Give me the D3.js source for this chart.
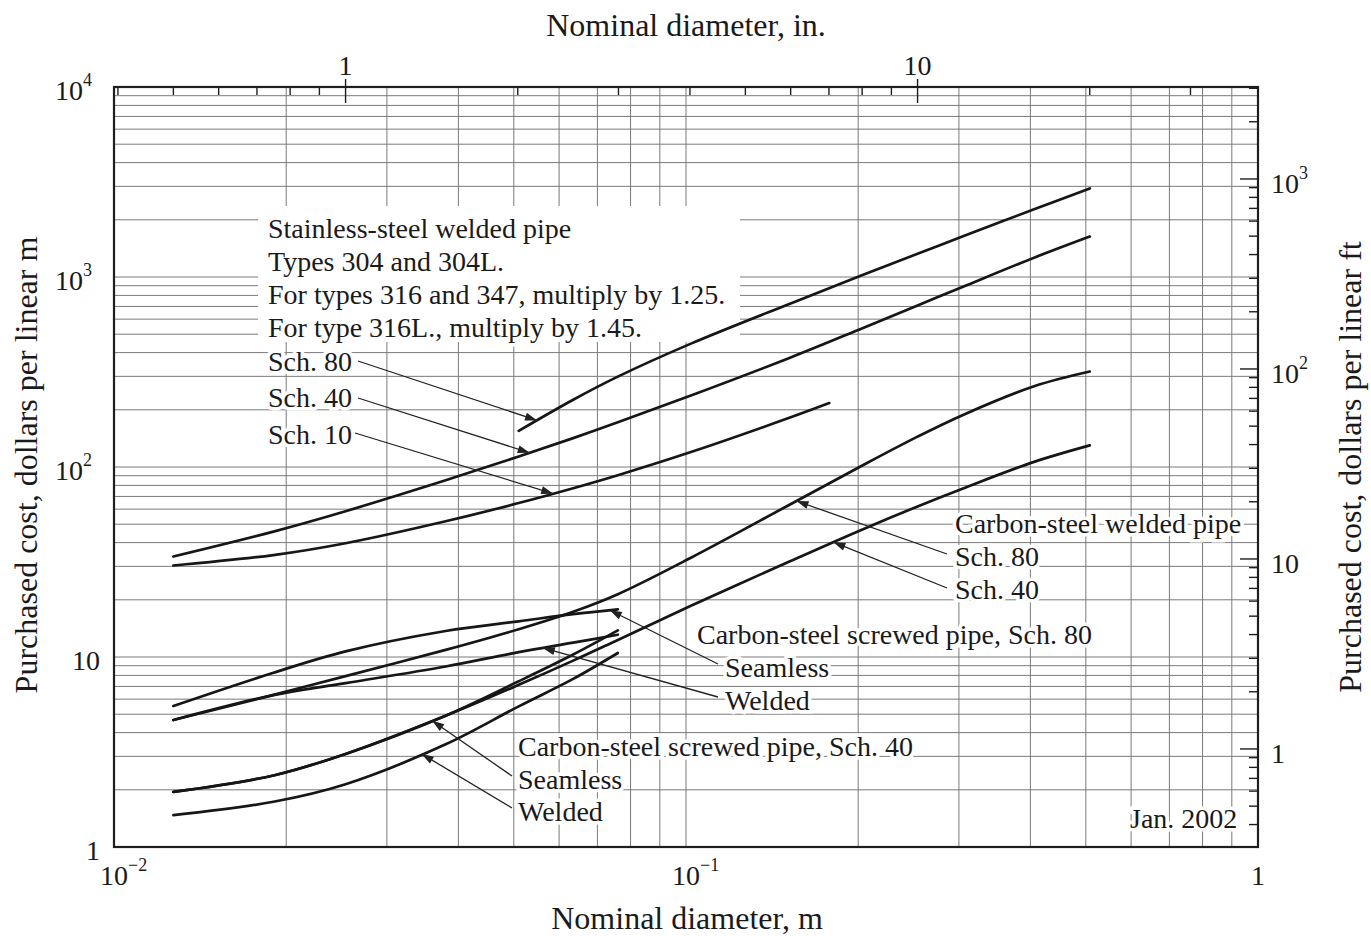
<!DOCTYPE html>
<html>
<head>
<meta charset="utf-8">
<script src="https://cdn.jsdelivr.net/npm/d3@7"></script>
<style>
  body { margin: 0; background: #fff; }
  svg text { font-family: "Liberation Serif", "Times New Roman", serif; fill: #1a1a1a; }
</style>
</head>
<body>
<svg id="chart" width="1371" height="936"></svg>
<script>
'use strict';

// nominal pipe sizes, m (1/2 in. up to 20 in.)
var diameters = [0.0127, 0.019, 0.0254, 0.038, 0.051, 0.0635, 0.076, 0.102, 0.152, 0.203, 0.254, 0.305, 0.406, 0.508];

// purchased cost, $ per linear m (null = curve not drawn there)
var ssSch80 = [null, null, null, null, 155, 226, 299, 446, 724, 1020, 1325, 1637, 2274, 2924];
var ssSch40 = [33.8, 45.7, 58.5, 85.1, 113.5, 141.9, 171.8, 237.7, 375.8, 535.8, 708, 889, 1264, 1633];
var ssSch10Dia = [0.0127, 0.019, 0.0254, 0.038, 0.051, 0.0635, 0.076, 0.102, 0.152, 0.178];
var ssSch10 = [30.3, 34.4, 39.7, 51.8, 64.6, 77.3, 90.5, 119.8, 182, 217];
var csWeldedSch80 = [4.66, 6.32, 7.93, 10.9, 14.0, 17.3, 21.4, 33.3, 63.5, 101.6, 144.5, 188, 266, 318];
var csWeldedSch40 = [1.95, 2.38, 3.09, 4.91, 7.14, 9.57, 12.3, 18.6, 31.9, 46.8, 62.0, 77.1, 106.4, 130];
// screwed pipe only goes up to 3 in.
var screwedSch80Seamless = [5.52, 8.26, 10.7, 13.7, 15.4, 16.8, 17.8];
var screwedSch80Welded = [4.66, 6.30, 7.28, 8.91, 10.6, 11.9, 13.1];
var screwedSch40Seamless = [1.95, 2.38, 3.09, 4.91, 7.45, 10.3, 13.8];
var screwedSch40Welded = [1.47, 1.73, 2.14, 3.47, 5.50, 7.67, 10.5];

var yTickValues = [1, 10, 100, 1000, 10000];
var yTickLabels = [['1', ''], ['10', ''], ['10', '2'], ['10', '3'], ['10', '4']];
var xTickValues = [0.01, 0.1, 1];
var xTickLabels = [['10', '\u22122'], ['10', '\u22121'], ['1', '']];
var inTickValues = [1, 10];
var ftTickValues = [1, 10, 100, 1000];
var ftTickLabels = [['1', ''], ['10', ''], ['10', '2'], ['10', '3']];

var svg = d3.select('#chart');
var pLeft = 114, pRight = 1258, pTop = 87, pBottom = 847;

var x = d3.scaleLog().domain([0.01, 1]).range([pLeft, pRight]);
var y = d3.scaleLog().domain([1, 1e4]).range([pBottom, pTop]);
var xIn = d3.scaleLog().domain([0.01 / 0.0254, 1 / 0.0254]).range([pLeft, pRight]);
var yFt = d3.scaleLog().domain([0.3048, 3048]).range([pBottom, pTop]);

// log grid
var grid = svg.append('g').attr('stroke', '#7a7a7a').attr('stroke-width', 1);
grid.selectAll('line.v').data(x.ticks()).enter().append('line')
    .attr('x1', function(d) { return x(d); }).attr('x2', function(d) { return x(d); })
    .attr('y1', pTop).attr('y2', pBottom);
grid.selectAll('line.h').data(y.ticks()).enter().append('line')
    .attr('y1', function(d) { return y(d); }).attr('y2', function(d) { return y(d); })
    .attr('x1', pLeft).attr('x2', pRight);

// clear area behind the stainless-steel note
svg.append('rect').attr('x', 258).attr('y', 206).attr('width', 482).attr('height', 136).attr('fill', '#fff');

// frame
svg.append('rect').attr('x', pLeft).attr('y', pTop).attr('width', pRight - pLeft).attr('height', pBottom - pTop)
    .attr('fill', 'none').attr('stroke', '#1e1e1e').attr('stroke-width', 2.2);

// top (in.) and right (ft) ticks
var ticks = svg.append('g').attr('stroke', '#1e1e1e').attr('stroke-width', 1.4);
xIn.ticks().forEach(function(t) {
  var major = inTickValues.indexOf(t) >= 0;
  ticks.append('line').attr('x1', xIn(t)).attr('x2', xIn(t))
      .attr('y1', major ? pTop - 8 : pTop).attr('y2', pTop + (major ? 16 : 8));
});
yFt.ticks().forEach(function(t) {
  var major = ftTickValues.indexOf(t) >= 0;
  ticks.append('line').attr('y1', yFt(t)).attr('y2', yFt(t))
      .attr('x1', pRight - (major ? 18 : 9)).attr('x2', pRight);
});

function label(g, px, py, parts, anchor) {
  var t = g.append('text').attr('x', px).attr('y', py).attr('dy', '0.35em')
      .attr('font-size', 28).attr('text-anchor', anchor).text(parts[0]);
  if (parts[1]) t.append('tspan').attr('font-size', 18).attr('dy', '-0.75em').text(parts[1]);
  return t;
}

var labels = svg.append('g');
yTickValues.forEach(function(v, i) {
  var p = yTickLabels[i];
  label(labels, p[1] ? 92 : 100, y(v) + 3, p, 'end');
});
xTickValues.forEach(function(v, i) {
  label(labels, x(v) - (xTickLabels[i][1] ? 14 : 0), 875, xTickLabels[i], xTickLabels[i][1] ? 'start' : 'middle');
});
inTickValues.forEach(function(v) {
  label(labels, xIn(v), 65, [String(v), ''], 'middle');
});
ftTickValues.forEach(function(v, i) {
  label(labels, 1271, yFt(v) + 4, ftTickLabels[i], 'start');
});

// axis titles
labels.append('text').attr('x', 687).attr('y', 918).attr('dy', '0.35em').attr('font-size', 32)
    .attr('text-anchor', 'middle').text('Nominal diameter, m');
labels.append('text').attr('x', 686).attr('y', 25).attr('dy', '0.35em').attr('font-size', 32)
    .attr('text-anchor', 'middle').text('Nominal diameter, in.');
labels.append('text').attr('transform', 'translate(26,465) rotate(-90)').attr('dy', '0.35em').attr('font-size', 32)
    .attr('text-anchor', 'middle').text('Purchased cost, dollars per linear m');
labels.append('text').attr('transform', 'translate(1350,467) rotate(-90)').attr('dy', '0.35em').attr('font-size', 32)
    .attr('text-anchor', 'middle').text('Purchased cost, dollars per linear ft');

// curves
function pts(dia, values) {
  return values.map(function(v, i) { return [dia[i], v]; }).filter(function(p) { return p[1] != null; });
}
var series = {
  ssSch80: pts(diameters, ssSch80),
  ssSch40: pts(diameters, ssSch40),
  ssSch10: pts(ssSch10Dia, ssSch10),
  csWeldedSch80: pts(diameters, csWeldedSch80),
  csWeldedSch40: pts(diameters, csWeldedSch40),
  screwedSch80Seamless: pts(diameters, screwedSch80Seamless),
  screwedSch80Welded: pts(diameters, screwedSch80Welded),
  screwedSch40Seamless: pts(diameters, screwedSch40Seamless),
  screwedSch40Welded: pts(diameters, screwedSch40Welded)
};

var line = d3.line()
    .x(function(p) { return x(p[0]); })
    .y(function(p) { return y(p[1]); })
    .curve(d3.curveCatmullRom.alpha(0.5));

svg.append('g').selectAll('path').data(Object.values(series)).enter().append('path')
    .attr('d', line).attr('fill', 'none').attr('stroke', '#161616').attr('stroke-width', 2.7)
    .attr('stroke-linejoin', 'round').attr('stroke-linecap', 'round');

// cost on a curve at diameter d (log-log interpolation)
function costAt(p, d) {
  for (var i = 0; i < p.length - 1; i++) {
    if (d >= p[i][0] && d <= p[i + 1][0]) {
      var t = (Math.log(d) - Math.log(p[i][0])) / (Math.log(p[i + 1][0]) - Math.log(p[i][0]));
      return Math.exp(Math.log(p[i][1]) + t * (Math.log(p[i + 1][1]) - Math.log(p[i][1])));
    }
  }
  return p[p.length - 1][1];
}

// annotation text: [text, x, y]
var notes = [
  ['Stainless-steel welded pipe', 268, 228],
  ['Types 304 and 304L.', 268, 261],
  ['For types 316 and 347, multiply by 1.25.', 268, 294],
  ['For type 316L., multiply by 1.45.', 268, 327],
  ['Sch. 80', 268, 361],
  ['Sch. 40', 268, 397],
  ['Sch. 10', 268, 434],
  ['Carbon-steel welded pipe', 955, 523],
  ['Sch. 80', 955, 556],
  ['Sch. 40', 955, 589],
  ['Carbon-steel screwed pipe, Sch. 80', 697, 634],
  ['Seamless', 725, 667],
  ['Welded', 725, 700],
  ['Carbon-steel screwed pipe, Sch. 40', 518, 746],
  ['Seamless', 518, 779],
  ['Welded', 518, 811],
  ['Jan. 2002', 1130, 818]
];

// leaders: start point next to the label, arrow tip on the curve at diameter d
var leaders = [
  {from: [358, 361], s: 'ssSch80', d: 0.0549},
  {from: [358, 398], s: 'ssSch40', d: 0.0533},
  {from: [355, 433], s: 'ssSch10', d: 0.0586},
  {from: [947, 554], s: 'csWeldedSch80', d: 0.156},
  {from: [947, 588], s: 'csWeldedSch40', d: 0.181},
  {from: [718, 664], s: 'screwedSch80Seamless', d: 0.0736},
  {from: [718, 697], s: 'screwedSch80Welded', d: 0.0562},
  {from: [512, 776], s: 'screwedSch40Seamless', d: 0.036},
  {from: [512, 808], s: 'screwedSch40Welded', d: 0.0345}
];

var lead = svg.append('g');
leaders.forEach(function(l) {
  var tx = x(l.d), ty = y(costAt(series[l.s], l.d));
  var a = Math.atan2(ty - l.from[1], tx - l.from[0]);
  lead.append('line').attr('x1', l.from[0]).attr('y1', l.from[1]).attr('x2', tx).attr('y2', ty)
      .attr('stroke', '#222').attr('stroke-width', 1.3);
  var len = 12, w = 4;
  var bx = tx - len * Math.cos(a), by = ty - len * Math.sin(a);
  lead.append('path')
      .attr('d', 'M' + tx + ',' + ty +
                 'L' + (bx - w * Math.sin(a)) + ',' + (by + w * Math.cos(a)) +
                 'L' + (bx + w * Math.sin(a)) + ',' + (by - w * Math.cos(a)) + 'Z')
      .attr('fill', '#222');
});

svg.append('g').selectAll('text').data(notes).enter().append('text')
    .attr('x', function(n) { return n[1]; })
    .attr('y', function(n) { return n[2]; })
    .attr('dy', '0.35em')
    .attr('font-size', 28)
    .attr('stroke', '#fff').attr('stroke-width', 7).attr('paint-order', 'stroke')
    .text(function(n) { return n[0]; });
</script>
</body>
</html>
